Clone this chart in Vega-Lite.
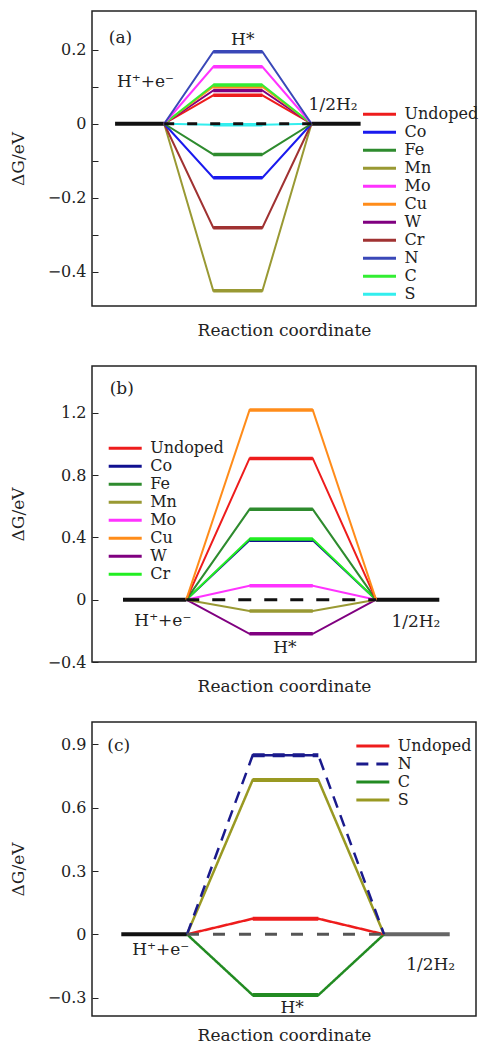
{
  "$schema": "https://vega.github.io/schema/vega-lite/v6.json",
  "background": "white",
  "padding": {"left": 8, "top": 10, "right": 0, "bottom": 0},
  "spacing": 26,
  "resolve": {"scale": {"color": "independent", "strokeDash": "independent"}, "legend": {"color": "independent", "strokeDash": "independent"}},
  "config": {
    "view": {"stroke": "#222", "strokeWidth": 1.5},
    "font": "DejaVu Serif",
    "axis": {"labelFont": "DejaVu Serif", "labelFontSize": 16, "labelColor": "#222", "titleFont": "DejaVu Serif", "titleFontSize": 17, "titleFontWeight": "normal", "titleColor": "#222", "grid": false, "domain": false, "tickColor": "#222", "tickSize": -6, "labelPadding": 12},
    "axisY": {"titlePadding": 20},
    "axisX": {"labels": false, "ticks": false, "titlePadding": 16},
    "legend": {"labelFont": "DejaVu Serif", "labelFontSize": 16, "labelColor": "#222", "symbolType": "M-3,0H3", "symbolSize": 121, "symbolStrokeWidth": 3, "rowPadding": 2, "labelOffset": 17, "padding": 0}
  },
  "datasets": {
    "base": [
      {"p": "a", "k": "L", "x": 0, "y": 0}, {"p": "a", "k": "L", "x": 1, "y": 0},
      {"p": "a", "k": "R", "x": 4, "y": 0}, {"p": "a", "k": "R", "x": 5, "y": 0},
      {"p": "a", "k": "D", "x": 1, "y": 0}, {"p": "a", "k": "D", "x": 4, "y": 0},
      {"p": "b", "k": "L", "x": 0, "y": 0}, {"p": "b", "k": "L", "x": 1, "y": 0},
      {"p": "b", "k": "R", "x": 4, "y": 0}, {"p": "b", "k": "R", "x": 5, "y": 0},
      {"p": "b", "k": "D", "x": 1, "y": 0}, {"p": "b", "k": "D", "x": 4, "y": 0},
      {"p": "c", "k": "L", "x": 0, "y": 0}, {"p": "c", "k": "L", "x": 1, "y": 0},
      {"p": "c", "k": "R", "x": 4, "y": 0}, {"p": "c", "k": "R", "x": 5, "y": 0},
      {"p": "c", "k": "D", "x": 1, "y": 0}, {"p": "c", "k": "D", "x": 4, "y": 0}
    ],
    "lines": [
      {"p": "a", "s": "Mn", "x": 1, "y": 0}, {"p": "a", "s": "Mn", "x": 2, "y": -0.452}, {"p": "a", "s": "Mn", "x": 3, "y": -0.452}, {"p": "a", "s": "Mn", "x": 4, "y": 0},
      {"p": "a", "s": "Cr", "x": 1, "y": 0}, {"p": "a", "s": "Cr", "x": 2, "y": -0.281}, {"p": "a", "s": "Cr", "x": 3, "y": -0.281}, {"p": "a", "s": "Cr", "x": 4, "y": 0},
      {"p": "a", "s": "Co", "x": 1, "y": 0}, {"p": "a", "s": "Co", "x": 2, "y": -0.146}, {"p": "a", "s": "Co", "x": 3, "y": -0.146}, {"p": "a", "s": "Co", "x": 4, "y": 0},
      {"p": "a", "s": "Fe", "x": 1, "y": 0}, {"p": "a", "s": "Fe", "x": 2, "y": -0.083}, {"p": "a", "s": "Fe", "x": 3, "y": -0.083}, {"p": "a", "s": "Fe", "x": 4, "y": 0},
      {"p": "a", "s": "S", "x": 1, "y": 0}, {"p": "a", "s": "S", "x": 2, "y": -0.003}, {"p": "a", "s": "S", "x": 3, "y": -0.003}, {"p": "a", "s": "S", "x": 4, "y": 0},
      {"p": "a", "s": "Undoped", "x": 1, "y": 0}, {"p": "a", "s": "Undoped", "x": 2, "y": 0.077}, {"p": "a", "s": "Undoped", "x": 3, "y": 0.077}, {"p": "a", "s": "Undoped", "x": 4, "y": 0},
      {"p": "a", "s": "W", "x": 1, "y": 0}, {"p": "a", "s": "W", "x": 2, "y": 0.09}, {"p": "a", "s": "W", "x": 3, "y": 0.09}, {"p": "a", "s": "W", "x": 4, "y": 0},
      {"p": "a", "s": "Cu", "x": 1, "y": 0}, {"p": "a", "s": "Cu", "x": 2, "y": 0.1}, {"p": "a", "s": "Cu", "x": 3, "y": 0.1}, {"p": "a", "s": "Cu", "x": 4, "y": 0},
      {"p": "a", "s": "C", "x": 1, "y": 0}, {"p": "a", "s": "C", "x": 2, "y": 0.105}, {"p": "a", "s": "C", "x": 3, "y": 0.105}, {"p": "a", "s": "C", "x": 4, "y": 0},
      {"p": "a", "s": "Mo", "x": 1, "y": 0}, {"p": "a", "s": "Mo", "x": 2, "y": 0.154}, {"p": "a", "s": "Mo", "x": 3, "y": 0.154}, {"p": "a", "s": "Mo", "x": 4, "y": 0},
      {"p": "a", "s": "N", "x": 1, "y": 0}, {"p": "a", "s": "N", "x": 2, "y": 0.195}, {"p": "a", "s": "N", "x": 3, "y": 0.195}, {"p": "a", "s": "N", "x": 4, "y": 0},
      {"p": "b", "s": "W", "x": 1, "y": 0}, {"p": "b", "s": "W", "x": 2, "y": -0.219}, {"p": "b", "s": "W", "x": 3, "y": -0.219}, {"p": "b", "s": "W", "x": 4, "y": 0},
      {"p": "b", "s": "Mn", "x": 1, "y": 0}, {"p": "b", "s": "Mn", "x": 2, "y": -0.073}, {"p": "b", "s": "Mn", "x": 3, "y": -0.073}, {"p": "b", "s": "Mn", "x": 4, "y": 0},
      {"p": "b", "s": "Mo", "x": 1, "y": 0}, {"p": "b", "s": "Mo", "x": 2, "y": 0.09}, {"p": "b", "s": "Mo", "x": 3, "y": 0.09}, {"p": "b", "s": "Mo", "x": 4, "y": 0},
      {"p": "b", "s": "Co", "x": 1, "y": 0}, {"p": "b", "s": "Co", "x": 2, "y": 0.382}, {"p": "b", "s": "Co", "x": 3, "y": 0.382}, {"p": "b", "s": "Co", "x": 4, "y": 0},
      {"p": "b", "s": "Cr", "x": 1, "y": 0}, {"p": "b", "s": "Cr", "x": 2, "y": 0.39}, {"p": "b", "s": "Cr", "x": 3, "y": 0.39}, {"p": "b", "s": "Cr", "x": 4, "y": 0},
      {"p": "b", "s": "Fe", "x": 1, "y": 0}, {"p": "b", "s": "Fe", "x": 2, "y": 0.58}, {"p": "b", "s": "Fe", "x": 3, "y": 0.58}, {"p": "b", "s": "Fe", "x": 4, "y": 0},
      {"p": "b", "s": "Undoped", "x": 1, "y": 0}, {"p": "b", "s": "Undoped", "x": 2, "y": 0.907}, {"p": "b", "s": "Undoped", "x": 3, "y": 0.907}, {"p": "b", "s": "Undoped", "x": 4, "y": 0},
      {"p": "b", "s": "Cu", "x": 1, "y": 0}, {"p": "b", "s": "Cu", "x": 2, "y": 1.217}, {"p": "b", "s": "Cu", "x": 3, "y": 1.217}, {"p": "b", "s": "Cu", "x": 4, "y": 0},
      {"p": "c", "s": "C", "x": 1, "y": 0}, {"p": "c", "s": "C", "x": 2, "y": -0.288}, {"p": "c", "s": "C", "x": 3, "y": -0.288}, {"p": "c", "s": "C", "x": 4, "y": 0},
      {"p": "c", "s": "Undoped", "x": 1, "y": 0}, {"p": "c", "s": "Undoped", "x": 2, "y": 0.074}, {"p": "c", "s": "Undoped", "x": 3, "y": 0.074}, {"p": "c", "s": "Undoped", "x": 4, "y": 0},
      {"p": "c", "s": "S", "x": 1, "y": 0}, {"p": "c", "s": "S", "x": 2, "y": 0.731}, {"p": "c", "s": "S", "x": 3, "y": 0.731}, {"p": "c", "s": "S", "x": 4, "y": 0},
      {"p": "c", "s": "N", "x": 1, "y": 0}, {"p": "c", "s": "N", "x": 2, "y": 0.848}, {"p": "c", "s": "N", "x": 3, "y": 0.848}, {"p": "c", "s": "N", "x": 4, "y": 0}
    ],
    "ann": [
      {"p": "a", "t": "(a)", "x": 0.11, "y": 0.232},
      {"p": "a", "t": "H*", "x": 2.6, "y": 0.226},
      {"p": "a", "t": "H⁺+e⁻", "x": 0.62, "y": 0.113},
      {"p": "a", "t": "1/2H₂", "x": 4.44, "y": 0.05},
      {"p": "b", "t": "(b)", "x": -0.02, "y": 1.35},
      {"p": "b", "t": "H⁺+e⁻", "x": 0.63, "y": -0.136},
      {"p": "b", "t": "1/2H₂", "x": 4.63, "y": -0.146},
      {"p": "b", "t": "H*", "x": 2.56, "y": -0.307},
      {"p": "c", "t": "(c)", "x": -0.04, "y": 0.89},
      {"p": "c", "t": "H⁺+e⁻", "x": 0.6, "y": -0.074},
      {"p": "c", "t": "1/2H₂", "x": 4.71, "y": -0.145},
      {"p": "c", "t": "H*", "x": 2.6, "y": -0.35}
    ]
  },
  "vconcat": [
    {
      "width": 384, "height": 295,
      "layer": [
        {
          "data": {"name": "base"},
          "transform": [{"filter": "datum.p == 'a' && datum.k != 'D'"}],
          "mark": {"type": "line", "color": "#111", "strokeWidth": 4},
          "encoding": {
            "x": {"field": "x", "type": "quantitative", "scale": {"domain": [-0.47, 7.35], "nice": false, "zero": false}, "axis": {"title": "Reaction coordinate"}},
            "y": {"field": "y", "type": "quantitative", "scale": {"domain": [-0.493, 0.305], "nice": false, "zero": false}, "axis": {"title": "ΔG/eV", "values": [-0.4, -0.3, -0.2, -0.1, 0, 0.1, 0.2], "labelExpr": "abs(round(datum.value*10)) % 2 == 0 ? format(datum.value, '~g') : ''"}},
            "detail": {"field": "k"}
          }
        },
        {
          "data": {"name": "lines"},
          "transform": [{"filter": "datum.p == 'a'"}],
          "mark": {"type": "line", "strokeWidth": 2},
          "encoding": {
            "x": {"field": "x", "type": "quantitative"},
            "y": {"field": "y", "type": "quantitative"},
            "color": {"field": "s", "type": "nominal",
              "scale": {"domain": ["Undoped", "Co", "Fe", "Mn", "Mo", "Cu", "W", "Cr", "N", "C", "S"], "range": ["#ee1c1c", "#1a1aee", "#2e8b2e", "#999933", "#ff33ff", "#ff8c1a", "#800080", "#a03232", "#3a48b8", "#33ee33", "#33eeee"]},
              "legend": {"title": null, "orient": "none", "legendX": 279.5, "legendY": 95.3}}
          }
        },
        {
          "data": {"name": "lines"},
          "transform": [{"filter": "datum.p == 'a' && datum.x >= 2 && datum.x <= 3"}],
          "mark": {"type": "line", "strokeWidth": 3.5},
          "encoding": {
            "x": {"field": "x", "type": "quantitative"},
            "y": {"field": "y", "type": "quantitative"},
            "color": {"field": "s", "type": "nominal",
              "scale": {"domain": ["Undoped", "Co", "Fe", "Mn", "Mo", "Cu", "W", "Cr", "N", "C", "S"], "range": ["#ee1c1c", "#1a1aee", "#2e8b2e", "#999933", "#ff33ff", "#ff8c1a", "#800080", "#a03232", "#3a48b8", "#33ee33", "#33eeee"]},
              "legend": {"title": null, "orient": "none", "legendX": 279.5, "legendY": 95.3}}
          }
        },
        {
          "data": {"name": "base"},
          "transform": [{"filter": "datum.p == 'a' && datum.k == 'D'"}],
          "mark": {"type": "line", "color": "#111", "strokeWidth": 3, "strokeDash": [10, 13]},
          "encoding": {"x": {"field": "x", "type": "quantitative"}, "y": {"field": "y", "type": "quantitative"}}
        },
        {
          "data": {"name": "ann"},
          "transform": [{"filter": "datum.p == 'a'"}],
          "mark": {"type": "text", "font": "DejaVu Serif", "fontSize": 17, "color": "#222", "align": "center", "baseline": "middle"},
          "encoding": {"x": {"field": "x", "type": "quantitative"}, "y": {"field": "y", "type": "quantitative"}, "text": {"field": "t"}}
        }
      ]
    },
    {
      "width": 384, "height": 296,
      "layer": [
        {
          "data": {"name": "base"},
          "transform": [{"filter": "datum.p == 'b' && datum.k != 'D'"}],
          "mark": {"type": "line", "color": "#111", "strokeWidth": 4},
          "encoding": {
            "x": {"field": "x", "type": "quantitative", "scale": {"domain": [-0.49, 5.58], "nice": false, "zero": false}, "axis": {"title": "Reaction coordinate"}},
            "y": {"field": "y", "type": "quantitative", "scale": {"domain": [-0.4, 1.5], "nice": false, "zero": false}, "axis": {"title": "ΔG/eV", "values": [-0.4, -0.2, 0, 0.2, 0.4, 0.6, 0.8, 1.0, 1.2, 1.4], "labelExpr": "round(datum.value*10) % 4 == 0 ? format(datum.value, '~g') : ''"}},
            "detail": {"field": "k"}
          }
        },
        {
          "data": {"name": "lines"},
          "transform": [{"filter": "datum.p == 'b'"}],
          "mark": {"type": "line", "strokeWidth": 2},
          "encoding": {
            "x": {"field": "x", "type": "quantitative"},
            "y": {"field": "y", "type": "quantitative"},
            "color": {"field": "s", "type": "nominal",
              "scale": {"domain": ["Undoped", "Co", "Fe", "Mn", "Mo", "Cu", "W", "Cr"], "range": ["#ee1c1c", "#101090", "#2e8b2e", "#999933", "#ff33ff", "#ff8c1a", "#800080", "#22ee22"]},
              "legend": {"title": null, "orient": "none", "legendX": 25.2, "legendY": 74.3}}
          }
        },
        {
          "data": {"name": "lines"},
          "transform": [{"filter": "datum.p == 'b' && datum.x >= 2 && datum.x <= 3"}],
          "mark": {"type": "line", "strokeWidth": 3.5},
          "encoding": {
            "x": {"field": "x", "type": "quantitative"},
            "y": {"field": "y", "type": "quantitative"},
            "color": {"field": "s", "type": "nominal",
              "scale": {"domain": ["Undoped", "Co", "Fe", "Mn", "Mo", "Cu", "W", "Cr"], "range": ["#ee1c1c", "#101090", "#2e8b2e", "#999933", "#ff33ff", "#ff8c1a", "#800080", "#22ee22"]},
              "legend": {"title": null, "orient": "none", "legendX": 25.2, "legendY": 74.3}}
          }
        },
        {
          "data": {"name": "base"},
          "transform": [{"filter": "datum.p == 'b' && datum.k == 'D'"}],
          "mark": {"type": "line", "color": "#111", "strokeWidth": 3, "strokeDash": [13, 13]},
          "encoding": {"x": {"field": "x", "type": "quantitative"}, "y": {"field": "y", "type": "quantitative"}}
        },
        {
          "data": {"name": "ann"},
          "transform": [{"filter": "datum.p == 'b'"}],
          "mark": {"type": "text", "font": "DejaVu Serif", "fontSize": 17, "color": "#222", "align": "center", "baseline": "middle"},
          "encoding": {"x": {"field": "x", "type": "quantitative"}, "y": {"field": "y", "type": "quantitative"}, "text": {"field": "t"}}
        }
      ]
    },
    {
      "width": 384, "height": 294,
      "layer": [
        {
          "data": {"name": "base"},
          "transform": [{"filter": "datum.p == 'c' && datum.k == 'L'"}],
          "mark": {"type": "line", "color": "#111", "strokeWidth": 4},
          "encoding": {
            "x": {"field": "x", "type": "quantitative", "scale": {"domain": [-0.446, 5.4], "nice": false, "zero": false}, "axis": {"title": "Reaction coordinate", "titlePadding": 11}},
            "y": {"field": "y", "type": "quantitative", "scale": {"domain": [-0.387, 1.006], "nice": false, "zero": false}, "axis": {"title": "ΔG/eV", "values": [-0.3, -0.15, 0, 0.15, 0.3, 0.45, 0.6, 0.75, 0.9], "labelExpr": "round(datum.value*100) % 30 == 0 ? format(datum.value, '~g') : ''"}}
          }
        },
        {
          "data": {"name": "base"},
          "transform": [{"filter": "datum.p == 'c' && datum.k == 'R'"}],
          "mark": {"type": "line", "color": "#666", "strokeWidth": 4},
          "encoding": {"x": {"field": "x", "type": "quantitative"}, "y": {"field": "y", "type": "quantitative"}}
        },
        {
          "data": {"name": "lines"},
          "transform": [{"filter": "datum.p == 'c'"}],
          "mark": {"type": "line", "strokeWidth": 2.5},
          "encoding": {
            "x": {"field": "x", "type": "quantitative"},
            "y": {"field": "y", "type": "quantitative"},
            "color": {"field": "s", "type": "nominal",
              "scale": {"domain": ["Undoped", "N", "C", "S"], "range": ["#ee1c1c", "#1a1a8c", "#228b22", "#999922"]},
              "legend": {"title": null, "orient": "none", "legendX": 272.85, "legendY": 16}},
            "strokeDash": {"field": "s", "type": "nominal",
              "scale": {"domain": ["Undoped", "N", "C", "S"], "range": [[1, 0], [12, 8], [1, 0], [1, 0]]},
              "legend": {"title": null, "orient": "none", "legendX": 272.85, "legendY": 16}}
          }
        },
        {
          "data": {"name": "lines"},
          "transform": [{"filter": "datum.p == 'c' && datum.x >= 2 && datum.x <= 3"}],
          "mark": {"type": "line", "strokeWidth": 4},
          "encoding": {
            "x": {"field": "x", "type": "quantitative"},
            "y": {"field": "y", "type": "quantitative"},
            "color": {"field": "s", "type": "nominal",
              "scale": {"domain": ["Undoped", "N", "C", "S"], "range": ["#ee1c1c", "#1a1a8c", "#228b22", "#999922"]},
              "legend": {"title": null, "orient": "none", "legendX": 272.85, "legendY": 16}},
            "strokeDash": {"field": "s", "type": "nominal",
              "scale": {"domain": ["Undoped", "N", "C", "S"], "range": [[1, 0], [12, 8], [1, 0], [1, 0]]},
              "legend": {"title": null, "orient": "none", "legendX": 272.85, "legendY": 16}}
          }
        },
        {
          "data": {"name": "base"},
          "transform": [{"filter": "datum.p == 'c' && datum.k == 'D'"}],
          "mark": {"type": "line", "color": "#555", "strokeWidth": 3, "strokeDash": [12, 14]},
          "encoding": {"x": {"field": "x", "type": "quantitative"}, "y": {"field": "y", "type": "quantitative"}}
        },
        {
          "data": {"name": "ann"},
          "transform": [{"filter": "datum.p == 'c'"}],
          "mark": {"type": "text", "font": "DejaVu Serif", "fontSize": 17, "color": "#222", "align": "center", "baseline": "middle"},
          "encoding": {"x": {"field": "x", "type": "quantitative"}, "y": {"field": "y", "type": "quantitative"}, "text": {"field": "t"}}
        }
      ]
    }
  ]
}
